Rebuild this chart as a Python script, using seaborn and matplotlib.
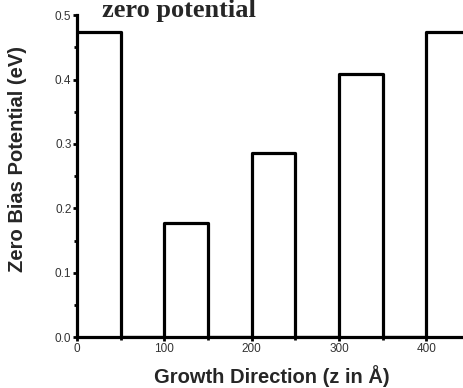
import matplotlib
matplotlib.use("Agg")
import matplotlib.pyplot as plt
from matplotlib.ticker import MultipleLocator, FormatStrFormatter
import seaborn as sns
import pandas as pd

# Layer boundaries along the growth direction (Angstrom) and the zero-bias
# potential of each layer (eV): barrier / well / step / well / step ...
z_edges = [0, 50, 100, 150, 200, 250, 300, 350, 400, 460]
layer_potential = [0.474, 0.0, 0.177, 0.0, 0.286, 0.0, 0.408, 0.0, 0.474]

# steps-post needs the last level repeated at the final edge
profile = pd.DataFrame({
    "z": z_edges,
    "V": layer_potential + [layer_potential[-1]],
})

sns.set_theme(style="ticks")
plt.rcParams["font.family"] = ["Liberation Sans", "DejaVu Sans"]

fig = plt.figure(figsize=(4.64, 3.88), dpi=100)
ax = fig.add_axes([0.166, 0.131, 0.834, 0.830])

sns.lineplot(data=profile, x="z", y="V", estimator=None, sort=False,
             drawstyle="steps-post", color="black", linewidth=2.3, ax=ax)

ax.set_xlim(0, 443)
ax.set_ylim(0, 0.5)

ax.xaxis.set_major_locator(MultipleLocator(100))
ax.xaxis.set_minor_locator(MultipleLocator(50))
ax.yaxis.set_major_locator(MultipleLocator(0.1))
ax.yaxis.set_minor_locator(MultipleLocator(0.05))
ax.yaxis.set_major_formatter(FormatStrFormatter("%.1f"))

ax.tick_params(which="major", direction="out", length=3, width=2,
               labelsize=8.5, labelcolor="#333333", pad=1, color="black")
ax.tick_params(which="minor", direction="out", length=2, width=2,
               color="black")

for side in ("top", "right"):
    ax.spines[side].set_visible(False)
for side in ("left", "bottom"):
    ax.spines[side].set_linewidth(2.3)
    ax.spines[side].set_color("black")

ax.set_xlabel("Growth Direction (z in Å)", fontsize=14.5, fontweight="bold")
ax.set_ylabel("Zero Bias Potential (eV)", fontsize=14.5, fontweight="bold")
ax.xaxis.set_label_coords(0.504, -0.085)
ax.yaxis.set_label_coords(-0.128, 0.553)

fig.text(0.22, 1 - 17 / 388, "zero potential", fontsize=19,
         fontweight="bold", family="Liberation Serif",
         ha="left", va="baseline")

fig.savefig("out.png", dpi=100, facecolor="white")
